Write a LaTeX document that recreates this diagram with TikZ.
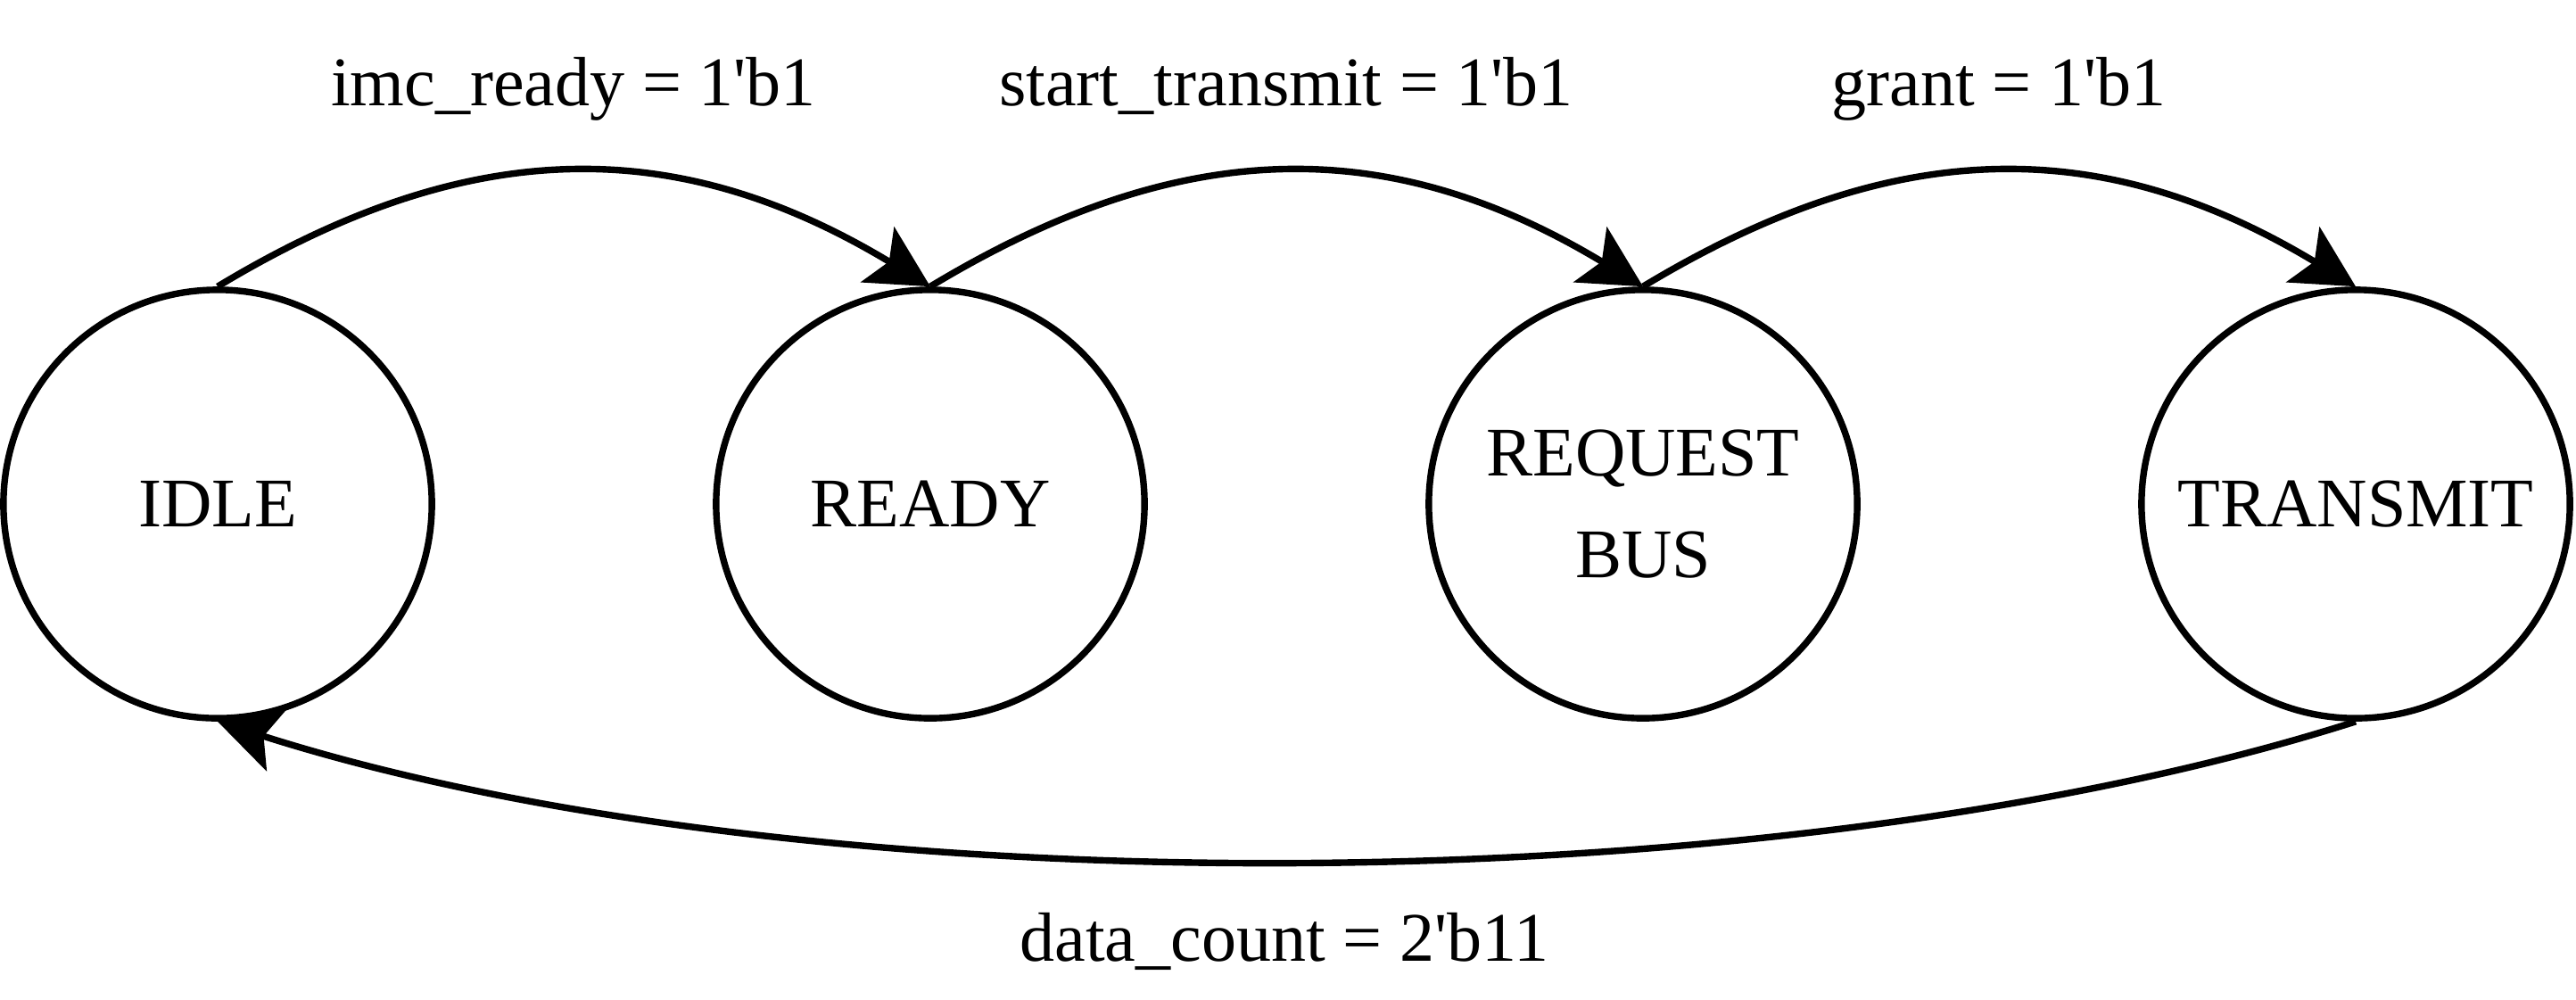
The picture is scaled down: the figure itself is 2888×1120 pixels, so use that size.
\documentclass[tikz,border=0pt]{standalone}
\usepackage{fontspec}
\setmainfont{Liberation Serif}
\usetikzlibrary{arrows.meta}
\begin{document}
\begin{tikzpicture}[x=0.01cm,y=-0.01cm,
  state/.style={circle,draw,line width=2.1pt,minimum size=4.8cm,inner sep=0pt,align=center,font=\fontsize{22.2}{32.5}\selectfont},
  lbl/.style={anchor=base,inner sep=0pt,font=\fontsize{22.2}{26}\selectfont},
  trans/.style={line width=2.1pt,-{Stealth[length=0.69cm,width=0.72cm,inset=0.15cm]}}]
\useasboundingbox (0,0) rectangle (2888,1120);
\node[state] (idle) at (244,565) {IDLE};
\node[state] (ready) at (1043,565) {READY};
\node[state] (req) at (1842,565) {REQUEST\\BUS};
\node[state] (tx) at (2641,565) {TRANSMIT};
\draw[trans] (idle.north) .. controls +(283,-171) and +(-283,-171) .. (ready.north);
\draw[trans] (ready.north) .. controls +(283,-171) and +(-283,-171) .. (req.north);
\draw[trans] (req.north) .. controls +(283,-171) and +(-283,-171) .. (tx.north);
\draw[trans] (tx.south) .. controls +(-655,209) and +(655,209) .. (idle.south);
\node[lbl] (l1) at (643,118) {imc\_ready = 1\textquotesingle b1};
\node[lbl] (l2) at (1442,118) {start\_transmit = 1\textquotesingle b1};
\node[lbl] (l3) at (2241,118) {grant = 1\textquotesingle b1};
\node[lbl] (l4) at (1440,1077) {data\_count = 2\textquotesingle b11};
\end{tikzpicture}
\end{document}
